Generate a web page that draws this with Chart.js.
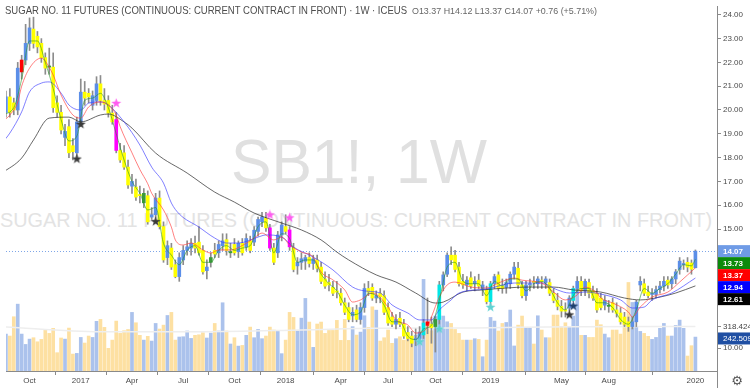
<!DOCTYPE html>
<html><head><meta charset="utf-8">
<script src="https://cdn.jsdelivr.net/npm/chart.js@4.4.1/dist/chart.umd.min.js"></script>
<style>
html,body{margin:0;padding:0;background:#fff;overflow:hidden}
#wrap{position:relative;width:750px;height:388px;overflow:hidden}
canvas{position:absolute;left:0;top:0}
.t{position:absolute;white-space:nowrap;font-family:"Liberation Sans",Arial,sans-serif;line-height:1;transform-origin:0 0}
</style></head><body>
<div id="wrap">
<div class="t" id="wm1">SB1!, 1W</div>
<div class="t" id="wm2">SUGAR NO. 11 FUTURES (CONTINUOUS: CURRENT CONTRACT IN FRONT)</div>
<canvas id="c" width="750" height="388"></canvas>
<div class="t" id="title">SUGAR NO. 11 FUTURES (CONTINUOUS: CURRENT CONTRACT IN FRONT) · 1W · ICEUS</div>
<div class="t" id="ohlc"></div>
<div class="t" id="gear">⚙</div>
</div>
<script>
// ---------------- DATA (weekly candles, Aug 2016 – Jan 2020) ----------------
const open = [19.7,19.9,20.55,20.3,20.0,21.6,22.1,22.8,23.4,23.1,22.8,22.2,21.85,21.8,20.3,19.9,18.85,19.3,18.5,18.2,
19.5,20.75,20.7,20.2,20.4,21.1,20.4,20.4,19.87,19.6,18.3,18.2,17.6,16.8,16.76,16.45,16.1,16.4,15.5,15.6,
16.3,15.1,13.8,14.2,13.5,13.0,13.7,14.1,14.2,14.4,14.45,14.1,13.25,13.6,14.1,14.0,14.3,14.55,14.0,14.35,
14.05,14.4,14.25,14.5,14.45,14.9,15.3,15.45,15.05,14.2,14.0,14.75,15.1,14.96,14.2,13.45,13.6,13.65,13.8,13.55,
13.7,13.4,12.9,12.75,12.55,12.4,12.3,11.9,11.7,11.35,11.6,11.2,11.7,12.5,12.55,12.1,12.3,12.2,11.7,11.3,
11.0,11.25,11.0,10.65,10.5,10.35,10.4,10.55,11.1,11.0,10.9,11.2,12.65,13.1,13.9,13.9,13.4,12.8,12.65,12.95,
12.7,12.85,12.45,12.45,11.95,12.7,13.07,12.6,12.55,12.7,13.1,13.35,12.65,12.2,12.65,12.8,12.7,12.85,12.75,12.75,
12.3,12.0,11.75,11.6,11.68,12.0,12.5,12.8,12.4,12.75,12.4,12.3,12.1,11.8,11.75,11.9,11.6,11.47,11.3,11.1,
10.9,11.1,12.65,12.7,12.35,12.25,12.25,12.45,12.6,12.85,12.7,12.9,13.3,13.5,13.6,13.57,13.37];
const high = [20.2,20.8,20.9,20.5,22.0,22.3,23.6,23.87,23.9,23.3,23.0,22.4,22.6,22.4,20.6,20.2,19.4,19.6,18.8,19.7,
21.3,21.2,20.9,20.8,21.4,21.45,20.9,20.6,20.2,19.9,18.6,18.5,17.9,17.3,17.1,16.8,16.7,16.6,15.9,16.5,
16.6,15.3,14.5,14.4,13.7,14.0,14.3,14.5,14.6,14.7,15.1,14.3,13.7,14.0,14.4,14.5,14.8,14.8,14.4,14.6,
14.5,14.6,14.8,14.7,15.1,15.5,15.7,15.7,15.2,14.4,14.9,15.3,15.6,15.1,14.4,13.8,14.0,13.9,14.0,13.9,
13.9,13.6,13.2,13.1,12.8,12.8,12.5,12.1,11.9,11.7,11.8,11.9,12.7,12.8,12.7,12.4,12.5,12.4,11.9,11.5,
11.4,11.5,11.2,10.9,10.7,10.8,10.9,11.2,12.1,11.3,11.3,12.8,13.2,14.0,14.25,14.1,13.6,13.1,13.0,13.2,
13.0,13.1,12.8,12.6,12.8,13.1,13.2,12.9,12.9,13.2,13.6,13.6,12.8,12.8,12.9,13.0,13.0,13.0,13.0,12.9,
12.5,12.3,12.0,11.9,12.2,12.6,13.0,13.0,12.9,12.9,12.6,12.5,12.3,12.2,12.0,12.1,11.9,11.7,11.5,11.3,
11.3,12.0,13.0,12.9,12.6,12.5,12.6,12.8,13.0,13.0,13.0,13.3,13.8,13.7,13.8,13.7,14.12];
const low = [19.5,19.7,19.7,19.8,19.8,21.3,21.9,22.5,22.6,22.4,22.0,21.5,21.5,19.9,19.7,19.0,18.5,18.0,17.9,18.05,
19.3,20.2,20.3,20.0,20.2,20.2,20.0,19.7,19.4,18.2,17.8,17.5,16.7,16.5,16.2,16.1,15.9,15.2,15.4,15.45,
15.0,13.6,13.5,13.3,12.95,12.8,13.5,13.9,13.9,14.0,13.9,13.1,12.9,13.4,13.8,13.8,14.1,13.9,13.8,13.9,
13.8,13.9,14.1,14.0,14.3,14.7,15.1,14.9,14.1,13.5,13.8,14.5,14.8,14.1,13.2,13.1,13.3,13.3,13.4,13.3,
13.2,12.7,12.5,12.4,12.2,12.1,11.8,11.4,11.1,11.1,11.1,11.0,11.5,12.2,12.0,11.9,11.9,11.4,10.95,10.9,
10.8,10.9,10.4,10.3,10.05,10.1,10.35,10.4,10.6,10.2,9.83,11.0,12.4,13.0,13.5,13.2,12.6,12.5,12.4,12.5,
12.4,12.5,12.2,11.85,11.8,12.5,12.4,12.3,12.3,12.5,12.9,12.5,12.1,12.0,12.4,12.5,12.5,12.5,12.5,12.2,
11.9,11.6,11.3,11.3,11.55,11.95,12.3,12.2,12.2,12.1,12.0,11.5,11.6,11.6,11.5,11.5,11.3,11.0,10.9,10.7,
10.8,10.9,12.4,12.2,12.1,12.0,12.1,12.3,12.4,12.5,12.5,12.7,13.1,13.3,13.2,13.1,13.37];
const close = [19.9,20.55,19.9,20.0,21.76,22.1,22.8,23.45,22.8,22.65,22.2,21.76,21.8,20.1,19.9,19.16,19.1,18.2,18.25,19.5,
20.75,20.5,20.55,20.6,21.1,20.4,20.25,19.87,19.5,18.3,17.9,17.6,16.85,17.0,16.34,16.4,16.5,15.3,15.6,16.3,
15.1,13.7,14.3,13.4,13.0,13.8,14.1,14.25,14.4,14.2,14.0,13.2,13.4,13.8,13.95,14.35,14.5,14.1,14.05,14.0,
14.4,14.0,14.6,14.1,14.95,15.4,15.5,15.05,14.2,13.6,14.75,15.17,14.9,14.25,13.3,13.6,13.75,13.8,13.55,13.75,
13.35,12.8,12.6,12.65,12.3,12.35,11.9,11.5,11.2,11.5,11.2,11.7,12.5,12.35,12.1,12.2,12.15,11.5,11.05,11.0,
11.2,11.0,10.5,10.4,10.2,10.4,10.65,11.05,10.95,10.85,11.2,12.65,13.07,13.9,13.7,13.3,12.7,12.65,12.85,12.6,
12.8,12.6,12.65,11.95,12.7,13.0,12.5,12.5,12.75,13.1,13.4,12.65,12.2,12.65,12.7,12.75,12.9,12.8,12.9,12.3,
12.0,11.75,11.55,11.55,12.1,12.5,12.8,12.4,12.8,12.3,12.1,11.6,11.7,12.0,11.8,11.6,11.45,11.1,11.0,10.9,
11.1,11.93,12.8,12.3,12.2,12.3,12.45,12.6,12.8,12.65,12.9,13.2,13.65,13.55,13.4,13.31,14.07];
const volume = [186,264,250,388,478,264,190,228,238,209,226,297,269,305,131,236,228,307,121,126,
240,200,250,240,355,369,312,162,221,357,269,288,297,419,345,255,221,248,214,340,
300,328,397,419,221,243,245,286,233,255,259,274,236,271,340,286,488,286,193,238,
178,183,255,314,238,297,231,250,314,293,286,124,221,419,383,286,378,519,350,169,
336,350,269,290,290,362,219,369,219,317,257,278,395,312,459,435,214,238,293,198,
231,245,221,274,245,255,281,655,328,288,393,393,393,352,340,297,269,221,221,221,
231,226,102,221,383,357,286,340,347,436,179,328,393,309,309,193,395,293,238,238,
400,400,317,345,317,393,585,255,255,240,240,364,331,264,238,293,293,264,352,633,
490,312,283,269,248,226,240,305,340,250,250,326,364,305,107,181,242.509];

// signal-coloured candles (indices)
const redBars = [5,108];
const greenBars = [12,36,53,58,110,154];
const magentaBars = [29,68,73];
const cyanBars = [107,111,124,145];

// moving averages: [week index, value]
const maGreen = [[0,19.8],[3,20.1],[5,21.3],[7,22.9],[9,22.9],[11,22.0],[13,20.9],[15,19.6],[17,18.7],[19,18.9],[21,20.4],[23,20.5],[25,20.7],[27,20.1],[29,19.0],[31,17.9],[33,17.0],[35,16.5],[37,15.8],[39,15.9],[41,14.4],[43,13.9],[45,13.5],[47,14.1],[49,14.3],[51,13.6],[53,13.6],[55,14.1],[57,14.3],[59,14.1],[61,14.2],[63,14.3],[65,15.1],[67,15.3],[69,14.0],[71,14.8],[73,14.6],[75,13.6],[77,13.7],[79,13.7],[81,13.1],[83,12.7],[85,12.4],[87,11.8],[89,11.4],[91,11.5],[93,12.3],[95,12.2],[97,11.8],[99,11.1],[101,11.1],[103,10.5],[105,10.35],[107,10.8],[109,10.95],[111,12.0],[113,13.4],[115,13.6],[117,12.8],[119,12.7],[121,12.7],[123,12.2],[125,12.8],[127,12.6],[129,12.9],[131,12.9],[133,12.4],[135,12.7],[137,12.8],[139,12.5],[141,11.9],[143,11.6],[145,12.2],[147,12.5],[149,12.5],[151,11.9],[153,11.9],[155,11.7],[157,11.2],[159,11.0],[161,11.6],[163,12.5],[165,12.3],[167,12.5],[169,12.7],[171,13.1],[173,13.5],[175,13.45],[176,13.73]];
const maRed = [[0,19.5],[2,19.79],[4,20.34],[5,21.0],[7,21.76],[10,22.18],[11,22.05],[13,21.47],[15,20.63],[18,19.79],[20,19.66],[22,20.13],[25,20.34],[27,20.21],[29,19.79],[30,19.3],[33,18.2],[35,17.5],[37,16.9],[38,16.5],[41,15.8],[43,15.08],[44,14.54],[46,14.33],[48,14.41],[51,14.12],[53,13.99],[55,14.12],[58,14.12],[62,14.4],[64,14.62],[66,14.83],[69,14.54],[71,14.66],[73,14.33],[76,14.03],[79,13.82],[81,13.19],[84,12.86],[87,12.44],[89,11.93],[91,12.02],[94,12.31],[98,11.72],[100,11.18],[103,10.97],[105,10.63],[108,10.88],[109,11.3],[111,12.14],[113,12.65],[115,12.77],[119,12.56],[123,12.52],[126,12.73],[130,12.94],[132,12.85],[137,12.73],[140,12.35],[143,12.02],[146,12.23],[148,12.56],[151,12.31],[152,12.1],[155,11.89],[159,11.51],[160,11.3],[162,11.72],[165,12.14],[169,12.35],[172,12.77],[176,13.37]];
const maBlue = [[0,18.61],[2,19.03],[5,19.92],[7,20.76],[10,21.13],[12,21.18],[15,20.71],[17,20.21],[20,20.0],[22,20.29],[25,20.34],[27,20.21],[31,19.5],[35,18.53],[38,17.6],[41,16.93],[43,16.09],[45,15.63],[50,15.08],[54,14.62],[57,14.41],[60,14.41],[65,14.66],[67,14.75],[71,14.66],[74,14.24],[79,13.82],[84,13.28],[89,12.56],[92,12.4],[96,12.31],[99,11.81],[103,11.47],[106,11.18],[109,11.18],[111,11.6],[114,12.02],[116,12.31],[123,12.48],[130,12.73],[137,12.73],[141,12.44],[144,12.31],[148,12.35],[153,12.23],[157,12.02],[160,11.68],[163,11.72],[165,12.02],[170,12.31],[176,12.94]];
const maBlack = [[0,17.35],[5,17.98],[8,18.74],[12,19.66],[17,19.7],[20,19.5],[25,19.79],[27,19.83],[31,19.5],[33,19.24],[39,18.19],[47,17.35],[54,16.55],[59,16.13],[64,15.67],[71,15.25],[76,14.96],[81,14.54],[85,14.03],[88,13.7],[95,13.07],[100,12.77],[105,12.31],[110,11.89],[112,11.93],[117,12.35],[122,12.44],[128,12.52],[133,12.56],[140,12.56],[145,12.44],[152,12.35],[158,12.1],[162,12.02],[167,12.14],[171,12.31],[176,12.61]];
const volMA = [[0,317],[25,281],[51,281],[76,293],[95,305],[120,308],[145,317],[176,318.424]];

// signal stars: [week index, price]
const starsPink = [[29,20.28],[68,15.59],[73,15.47]];
const starsBlack = [[19,17.94],[20,19.4],[39,15.31],[144,11.39]];
const starsNavy = [[145,11.76]];
const starsCyan = [[106,10.26],[111,10.8],[124,11.71]];

// time-axis labels
const tickIdx = [7,20,33,46,59,72,86,98,110,124,142,154,176];
const tickLbl = ['Oct','2017','Apr','Jul','Oct','2018','Apr','Jul','Oct','2019','May','Aug','2020'];
const priceTicks = [10,11,12,13,14,15,16,17,18,19,20,21,22,23,24];

// ---------------- layout constants ----------------
const FONT = '"Liberation Sans", Arial, sans-serif';
Chart.defaults.font.family = FONT;
const X0 = 1.97, DX = 3.94;
const P_REF = 15, P_REF_PX = 229, PX_PER_UNIT = 23.8;
const V_BASE_PX = 371, V_PER_PX = 7.15;
const UP = '#5b8ee8', DOWN = '#ffff00';

const N = close.length;
const idx = [...Array(N).keys()];
function bodyColor(i){
  if (magentaBars.includes(i)) return '#ff00ff';
  if (redBars.includes(i)) return '#ff0000';
  if (greenBars.includes(i)) return '#3a9a3a';
  if (cyanBars.includes(i)) return '#00e6e6';
  return close[i] >= open[i] ? UP : DOWN;
}
const pts = arr => arr.map(([x,y]) => ({x, y}));
function starImg(color){
  const c = document.createElement('canvas'); c.width = c.height = 11;
  const g = c.getContext('2d'); g.fillStyle = color; g.beginPath();
  for (let k = 0; k < 10; k++){
    const r = k % 2 ? 2.1 : 5.2, a = -Math.PI/2 + k*Math.PI/5;
    g.lineTo(5.5 + r*Math.cos(a), 5.5 + r*Math.sin(a));
  }
  g.closePath(); g.fill(); return c;
}
function ranges(a){
  return {
    xMin:(a.left - X0)/DX, xMax:(a.right - X0)/DX,
    yMin:P_REF + (P_REF_PX - a.bottom)/PX_PER_UNIT, yMax:P_REF + (P_REF_PX - a.top)/PX_PER_UNIT,
    vMin:(V_BASE_PX - a.bottom)*V_PER_PX, vMax:(V_BASE_PX - a.top)*V_PER_PX
  };
}
const R = ranges({left:0, right:717, top:0, bottom:371});
const last = a => a[a.length-1][1];

const overlay = {
  id:'overlay',
  beforeDatasetsDraw(chart){
    const {ctx, chartArea:a, scales:{y}} = chart;
    const py = Math.round(y.getPixelForValue(close[N-1])) + 0.5;
    ctx.save(); ctx.strokeStyle = '#7fa6e8'; ctx.lineWidth = 1; ctx.setLineDash([1,2]);
    ctx.beginPath(); ctx.moveTo(a.left, py); ctx.lineTo(a.right, py); ctx.stroke(); ctx.restore();
  },
  afterDraw(chart){
    const {ctx, chartArea:a, scales:{y, v}} = chart;
    const W = chart.width;
    ctx.save();
    ctx.strokeStyle = '#8a8a8a'; ctx.lineWidth = 1;
    ctx.beginPath(); ctx.moveTo(a.right + 0.5, a.bottom); ctx.lineTo(a.right + 0.5, chart.height); ctx.stroke();
    ctx.font = 'bold 8px ' + FONT; ctx.textBaseline = 'middle';
    const drawStack = (items, scale, digits) => {
      let prev = -Infinity;
      for (const [val, bg, fg] of items){
        const cy = Math.max(scale.getPixelForValue(val), prev + 12);
        prev = cy;
        ctx.fillStyle = bg; ctx.fillRect(a.right + 1, cy - 6, W - a.right - 1, 12);
        if (bg === '#ffffff'){ ctx.strokeStyle = '#8a8a8a'; ctx.beginPath(); ctx.moveTo(a.right + 1, Math.round(cy)+0.5); ctx.lineTo(a.right + 4, Math.round(cy)+0.5); ctx.stroke(); }
        ctx.fillStyle = fg; ctx.fillText(val.toFixed(digits), a.right + 6, cy + 0.5);
      }
    };
    drawStack([[close[N-1],'#6f9be6','#ffffff'],[last(maGreen),'#0b8a0b','#ffffff'],[last(maRed),'#ff0000','#ffffff'],
               [last(maBlue),'#0000ff','#ffffff'],[last(maBlack),'#000000','#ffffff']], y, 2);
    ctx.font = '8px ' + FONT;
    drawStack([[last(volMA),'#ffffff','#444444'],[volume[N-1],'#1f4fa3','#ffffff']], v, 3);
    ctx.restore();
  }
};

const tickFont = {size:8, family:FONT};
const chart = new Chart(document.getElementById('c'), {
  type:'bar',
  data:{datasets:[
    {type:'bar', label:'vol', yAxisID:'v', order:20, grouped:false, barThickness:3,
     data: idx.map(i => ({x:i, y:volume[i]})),
     backgroundColor: idx.map(i => close[i] >= open[i] ? '#abc2ec' : '#fde0a2')},
    {type:'line', label:'volMA', yAxisID:'v', order:19, data: pts(volMA), borderColor:'#eeeeee', borderWidth:1.5,
     pointRadius:0, cubicInterpolationMode:'monotone'},
    {type:'bar', label:'wick', yAxisID:'y', order:12, grouped:false, barThickness:1,
     data: idx.map(i => ({x:i, y:[low[i], high[i]]})), backgroundColor:'#8c8c8c'},
    {type:'bar', label:'body', yAxisID:'y', order:11, grouped:false, barThickness:3, minBarLength:1,
     data: idx.map(i => ({x:i, y:[Math.min(open[i],close[i]), Math.max(open[i],close[i])]})),
     backgroundColor: idx.map(bodyColor)},
    {type:'line', label:'black', yAxisID:'y', order:8, data: pts(maBlack), borderColor:'rgba(40,40,40,0.7)', borderWidth:1, pointRadius:0, cubicInterpolationMode:'monotone'},
    {type:'line', label:'blue', yAxisID:'y', order:7, data: pts(maBlue), borderColor:'rgba(60,60,255,0.65)', borderWidth:1, pointRadius:0, cubicInterpolationMode:'monotone'},
    {type:'line', label:'red', yAxisID:'y', order:6, data: pts(maRed), borderColor:'rgba(255,60,60,0.65)', borderWidth:1, pointRadius:0, cubicInterpolationMode:'monotone'},
    {type:'line', label:'green', yAxisID:'y', order:5, data: pts(maGreen), borderColor:'rgba(40,150,40,0.6)', borderWidth:1, pointRadius:0, cubicInterpolationMode:'monotone'},
    {type:'line', label:'sp', yAxisID:'y', order:1, showLine:false, data: pts(starsPink), pointStyle: starImg('#ff5cf0'), pointRadius:5},
    {type:'line', label:'sb', yAxisID:'y', order:1, showLine:false, data: pts(starsBlack), pointStyle: starImg('#3a3a3a'), pointRadius:5},
    {type:'line', label:'sn', yAxisID:'y', order:1, showLine:false, data: pts(starsNavy), pointStyle: starImg('#1d3f6e'), pointRadius:5},
    {type:'line', label:'sc', yAxisID:'y', order:1, showLine:false, data: pts(starsCyan), pointStyle: starImg('#5fd3d3'), pointRadius:5}
  ]},
  options:{
    responsive:false, animation:false, devicePixelRatio:1, events:[],
    layout:{padding:0},
    plugins:{legend:{display:false}, tooltip:{enabled:false}, title:{display:false}},
    scales:{
      x:{type:'linear', min:R.xMin, max:R.xMax, offset:false,
         grid:{drawOnChartArea:false, drawTicks:true, tickLength:4, color:'#8a8a8a'},
         border:{display:true, color:'#8a8a8a'},
         ticks:{autoSkip:false, maxRotation:0, padding:1, font:tickFont, color:'#4a4a4a',
                callback:(val) => { const k = tickIdx.indexOf(val); return k >= 0 ? tickLbl[k] : ''; }},
         afterBuildTicks: s => { s.ticks = tickIdx.map(v => ({value:v})); },
         afterFit: s => { s.height = 17; s.paddingLeft = 0; s.paddingRight = 0; }},
      y:{type:'linear', position:'right', min:R.yMin, max:R.yMax,
         grid:{drawOnChartArea:false, drawTicks:true, tickLength:4, color:'#8a8a8a'},
         border:{display:true, color:'#8a8a8a'},
         ticks:{padding:2, font:tickFont, color:'#4a4a4a', callback: v => Number(v).toFixed(2)},
         afterBuildTicks: s => { s.ticks = priceTicks.map(v => ({value:v})); },
         afterFit: s => { s.width = 33; s.paddingTop = 0; s.paddingBottom = 0; }},
      v:{type:'linear', display:false, min:R.vMin, max:R.vMax}
    }
  },
  plugins:[overlay]
});
// re-fit the value ranges to the actual plot area
(function(){
  const r = ranges(chart.chartArea);
  const s = chart.options.scales;
  if (Math.abs(r.yMax - R.yMax) > 1e-6 || Math.abs(r.xMax - R.xMax) > 1e-6 || Math.abs(r.yMin - R.yMin) > 1e-6 || Math.abs(r.xMin - R.xMin) > 1e-6){
    s.x.min = r.xMin; s.x.max = r.xMax; s.y.min = r.yMin; s.y.max = r.yMax; s.v.min = r.vMin; s.v.max = r.vMax;
    chart.update('none');
  }
})();

// ---------------- header / watermark text ----------------
const chg = close[N-1] - close[N-2];
document.getElementById('ohlc').textContent =
  `O${open[N-1].toFixed(2)}  H${high[N-1].toFixed(2)}  L${low[N-1].toFixed(2)}  C${close[N-1].toFixed(2)}  ${chg>=0?'+':''}${chg.toFixed(2)} (${chg>=0?'+':''}${(chg/close[N-2]*100).toFixed(2)}%)`;
function place(id, left, baseline, size, width, color){
  const el = document.getElementById(id);
  el.style.fontSize = size + 'px'; el.style.color = color;
  el.style.left = left + 'px'; el.style.top = (baseline - 0.8465*size) + 'px';
  const w = el.getBoundingClientRect().width;
  if (width) el.style.transform = `scaleX(${width / w})`;
}
place('wm1', 231, 183, 63, 256, '#e0e0e0');
place('wm2', 0, 227, 21, 712, '#e3e3e3');
place('title', 5, 14, 10.5, 402, '#4d4d4d');
place('ohlc', 412, 14, 9.5, 185, '#666666');
const g = document.getElementById('gear');
g.style.fontFamily = '"DejaVu Sans", sans-serif'; g.style.fontSize = '13px'; g.style.color = '#555';
g.style.left = (737 - g.getBoundingClientRect().width/2) + 'px'; g.style.top = '374px';
</script>
</body></html>
